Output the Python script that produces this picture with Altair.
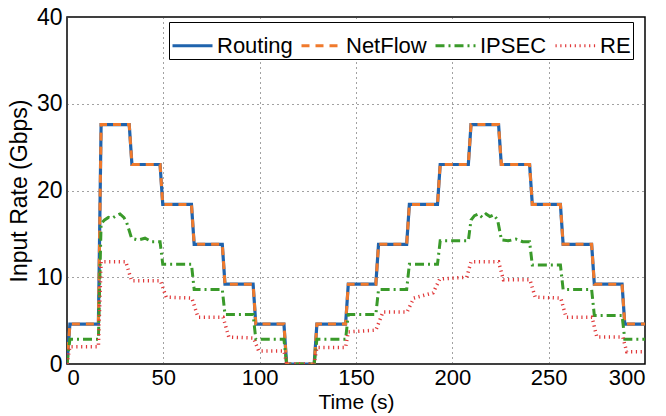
import altair as alt
import pandas as pd

# ---- data ----
routing_t = [0, 1.5, 16.3, 17.7, 32.3, 33.7, 48.3, 49.7, 64.6, 66.0, 80.6, 82.0, 96.6, 98.0,
             112.6, 114.0, 128.3, 129.7, 144.6, 146.0, 160.3, 161.7, 176.3, 177.7, 192.3, 193.7,
             208.3, 209.7, 224.0, 225.4, 240.1, 241.5, 256.1, 257.5, 272.3, 273.7, 288.1, 289.5, 300]
routing_v = [0, 4.6, 4.6, 27.6, 27.6, 23.0, 23.0, 18.4, 18.4, 13.8, 13.8, 9.2, 9.2, 4.6,
             4.6, 0, 0, 4.6, 4.6, 9.2, 9.2, 13.8, 13.8, 18.4, 18.4, 23.0,
             23.0, 27.6, 27.6, 23.0, 23.0, 18.4, 18.4, 13.8, 13.8, 9.2, 9.2, 4.6, 4.6]

netflow_t = [0, 1.5, 16.3, 17.7, 32.3, 33.7, 48.3, 49.7, 64.6, 66.0, 80.6, 82.0, 96.6, 98.0,
             112.6, 114.0, 128.3, 129.7, 144.6, 146.0, 160.3, 161.7, 176.3, 177.7, 192.3, 193.7,
             208.3, 209.7, 224.0, 225.4, 240.1, 241.5, 256.1, 257.5, 272.3, 273.7, 288.1, 289.5, 300]
netflow_v = [0, 4.6, 4.6, 27.6, 27.6, 23.0, 23.0, 18.4, 18.4, 13.8, 13.8, 9.2, 9.2, 4.6,
             4.6, 0, 0, 4.6, 4.6, 9.2, 9.2, 13.8, 13.8, 18.4, 18.4, 23.0,
             23.0, 27.6, 27.6, 23.0, 23.0, 18.4, 18.4, 13.8, 13.8, 9.2, 9.2, 4.6, 4.6]

ipsec_t = [0, 1.5, 16.3, 17.7, 19.5, 21.5, 23.5, 25.5, 27.5, 29.5, 31.0, 33.5, 37.0, 40.5, 44.0,
           48.3, 49.7, 64.6, 66.0, 80.6, 82.0, 96.6, 98.0, 112.6, 114.0, 128.3, 129.7, 144.6,
           146.0, 160.3, 161.7, 176.3, 177.7, 192.3, 193.7, 208.3, 209.7, 211.5, 213.5, 215.5,
           217.5, 219.5, 221.5, 223.5, 225.5, 229.0, 233.0, 236.5, 240.1, 241.5, 256.1, 257.5,
           272.3, 273.7, 288.1, 289.5, 300]
ipsec_v = [0, 2.85, 2.85, 16.2, 16.6, 16.9, 16.8, 17.1, 17.3, 16.9, 16.3, 14.5, 14.3, 14.5, 14.1,
           14.1, 11.5, 11.5, 8.6, 8.6, 5.7, 5.7, 2.85, 2.85, 0, 0, 2.85, 2.85,
           5.7, 5.7, 8.6, 8.6, 11.5, 11.5, 14.2, 14.2, 16.6, 17.1, 17.3, 16.9,
           17.3, 17.0, 17.2, 16.6, 14.3, 14.2, 14.4, 14.1, 14.1, 11.4, 11.4, 8.6,
           8.6, 5.6, 5.6, 2.85, 2.85]

re_t = [0, 1.5, 16.3, 17.7, 30.5, 33.5, 48.5, 51.5, 64.8, 68.0, 81.0, 84.0, 96.8, 99.5,
        112.6, 114.0, 128.3, 129.7, 144.6, 146.0, 160.3, 164.0, 176.5, 180.0, 190.0, 193.5,
        207.5, 209.7, 224.0, 226.5, 240.3, 243.0, 256.3, 259.0, 272.5, 275.0, 288.5, 290.5, 300]
re_v = [0, 2.0, 2.0, 11.8, 11.8, 9.6, 9.6, 7.7, 7.6, 5.4, 5.4, 3.1, 3.0, 1.5,
        1.5, 0, 0, 1.9, 1.9, 3.7, 3.9, 6.0, 6.0, 7.6, 8.2, 9.8,
        10.0, 11.8, 11.8, 9.7, 9.7, 7.7, 7.6, 5.4, 5.4, 3.1, 3.1, 1.4, 1.4]

series_names = ["Routing", "NetFlow", "IPSEC", "RE"]
series_colors = ["#1f63ad", "#f07a2c", "#3a9a2a", "#e0393a"]
series_dash = [[1, 0], [8, 6], [9, 4, 2, 4], [1.2, 3.6]]
series_width = [3.2, 3.0, 3.0, 3.5]

frames = []
for name, ts, vs in [("Routing", routing_t, routing_v), ("NetFlow", netflow_t, netflow_v),
                     ("IPSEC", ipsec_t, ipsec_v), ("RE", re_t, re_v)]:
    frames.append(pd.DataFrame({"t": ts, "v": vs, "series": name, "idx": range(len(ts))}))
df = pd.concat(frames, ignore_index=True)

FONT = "Liberation Sans"

x_enc = alt.X("t:Q", scale=alt.Scale(domain=[0, 300], nice=False),
              axis=alt.Axis(values=[0, 50, 100, 150, 200, 250, 300], title="Time (s)",
                            titleFontSize=21, titleFont=FONT, titleFontWeight="normal",
                            labelFontSize=22, labelFont=FONT, labelPadding=3,
                            titlePadding=3, ticks=False, domain=False,
                            grid=True, gridDash=[1, 4], gridColor="#444", gridWidth=1,
                            labelColor="black", titleColor="black"))
y_enc = alt.Y("v:Q", scale=alt.Scale(domain=[0, 40], nice=False),
              axis=alt.Axis(values=[0, 10, 20, 30, 40], title="Input Rate (Gbps)",
                            titleFontSize=23, titleFont=FONT, titleFontWeight="normal",
                            labelFontSize=23, labelFont=FONT, labelPadding=5,
                            titlePadding=5, ticks=False, domain=False,
                            grid=True, gridDash=[1, 4], gridColor="#444", gridWidth=1,
                            labelColor="black", titleColor="black"))

color_scale = alt.Scale(domain=series_names, range=series_colors)
dash_scale = alt.Scale(domain=series_names, range=series_dash)

legend = alt.Legend(title=None, orient="none", legendX=102, legendY=5, direction="horizontal",
                    columns=4, symbolType="stroke", symbolSize=1600, symbolStrokeWidth=3,
                    labelFontSize=22, labelFont=FONT, labelColor="black", labelOffset=3,
                    columnPadding=2, padding=2, strokeColor="black", fillColor="white",
                    symbolOpacity=1)

layers = []
for name, w in zip(series_names, series_width):
    layers.append(
        alt.Chart(df).transform_filter(alt.datum.series == name).mark_line(
            strokeWidth=w, strokeCap="butt", strokeJoin="miter", clip=True
        ).encode(
            x=x_enc, y=y_enc,
            order="idx:Q",
            color=alt.Color("series:N", scale=color_scale, legend=legend),
            strokeDash=alt.StrokeDash("series:N", scale=dash_scale, legend=legend),
        )
    )

chart = alt.layer(*layers).properties(
    width=578, height=347,
    padding={"left": 67, "top": 17, "right": 21, "bottom": 52},
    autosize=alt.AutoSizeParams(type="none"),
    background="white",
).configure_view(stroke="black", strokeWidth=1.5)

chart.save("out.html", embed_options={"renderer": "svg", "actions": False})
